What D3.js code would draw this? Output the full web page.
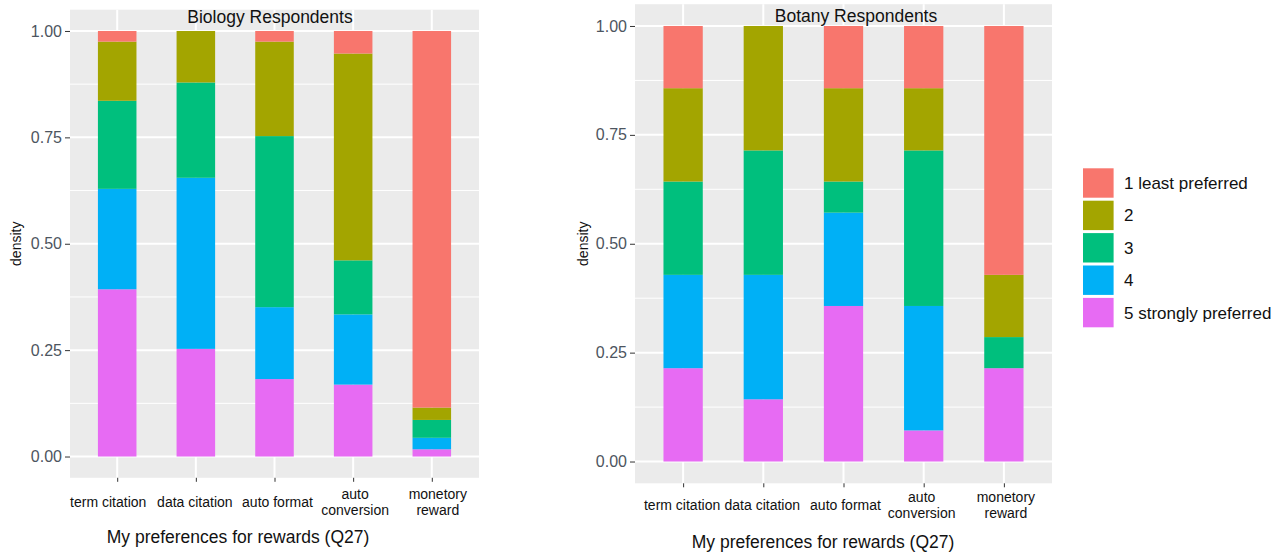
<!DOCTYPE html>
<html>
<head>
<meta charset="utf-8">
<script src="https://cdn.jsdelivr.net/npm/d3@7"></script>
<style>
  html, body { margin: 0; padding: 0; background: #ffffff; }
  svg { display: block; font-family: "Liberation Sans", Arial, sans-serif; }
</style>
</head>
<body>
<svg id="chart" width="1280" height="553"></svg>
<script>
// ---------------- DATA ----------------
const categories = ["term citation", "data citation", "auto format", "auto conversion", "monetory reward"];
const categoryLines = [["term citation"], ["data citation"], ["auto format"], ["auto", "conversion"], ["monetory", "reward"]];
const levels = ["1 least preferred", "2", "3", "4", "5 strongly preferred"];
const levelColors = ["#F8766D", "#A3A500", "#00BF7D", "#00B0F6", "#E76BF3"];
const yTicks = [0, 0.25, 0.5, 0.75, 1.0];
const yMinorTicks = [0.125, 0.375, 0.625, 0.875];

// Biology respondents (share of each rating per category)
const bioLevel1 = [0.025, 0.000, 0.025, 0.053, 0.885];
const bioLevel2 = [0.139, 0.121, 0.222, 0.486, 0.029];
const bioLevel3 = [0.207, 0.224, 0.402, 0.127, 0.042];
const bioLevel4 = [0.236, 0.402, 0.169, 0.165, 0.027];
const bioLevel5 = [0.393, 0.253, 0.182, 0.169, 0.017];

// Botany respondents (n = 14)
const botLevel1 = [2/14, 0/14, 2/14, 2/14, 8/14];
const botLevel2 = [3/14, 4/14, 3/14, 2/14, 2/14];
const botLevel3 = [3/14, 4/14, 1/14, 5/14, 1/14];
const botLevel4 = [3/14, 4/14, 3/14, 4/14, 0/14];
const botLevel5 = [3/14, 2/14, 5/14, 1/14, 3/14];

const panelTitles = ["Biology Respondents", "Botany Respondents"];
const xTitle = "My preferences for rewards (Q27)";
const yTitle = "density";

// ---------------- DRAW ----------------
const svg = d3.select("#chart");

function buildRows(series) {
  return categories.map((c, i) => {
    const row = { category: c };
    levels.forEach((l, j) => { row[l] = series[j][i]; });
    return row;
  });
}

function drawPanel(cfg) {
  const g = svg.append("g");
  const { left, right, top, bottom } = cfg;
  const rows = buildRows(cfg.series);

  const y = d3.scaleLinear().domain([-0.05, 1.05]).range([bottom, top]);
  const x = d3.scaleLinear().domain([0.4, categories.length + 0.6]).range([left, right]);
  const xc = d => x(categories.indexOf(d) + 1);
  const barW = (x(1.5) - x(1)) * 2 * 0.5 * 0.98;

  g.append("rect").attr("x", left).attr("y", top)
    .attr("width", right - left).attr("height", bottom - top).attr("fill", "#EBEBEB");

  g.selectAll(".minor").data(yMinorTicks).join("line")
    .attr("x1", left).attr("x2", right).attr("y1", d => y(d)).attr("y2", d => y(d))
    .attr("stroke", "#fff").attr("stroke-width", 1);
  g.selectAll(".major").data(yTicks).join("line")
    .attr("x1", left).attr("x2", right).attr("y1", d => y(d)).attr("y2", d => y(d))
    .attr("stroke", "#fff").attr("stroke-width", 2);
  g.selectAll(".vmajor").data(categories).join("line")
    .attr("x1", d => xc(d)).attr("x2", d => xc(d)).attr("y1", top).attr("y2", bottom)
    .attr("stroke", "#fff").attr("stroke-width", 2);

  const stackKeys = levels.slice().reverse();
  const stacked = d3.stack().keys(stackKeys)(rows);
  stacked.forEach(layer => {
    const col = levelColors[levels.indexOf(layer.key)];
    g.append("g").selectAll("rect").data(layer).join("rect")
      .attr("x", d => xc(d.data.category) - barW / 2)
      .attr("width", barW)
      .attr("y", d => y(d[1]))
      .attr("height", d => Math.max(0, y(d[0]) - y(d[1])))
      .attr("fill", col);
  });

  const yAxis = d3.axisLeft(y).tickValues(yTicks).tickFormat(d3.format(".2f")).tickSize(5).tickPadding(3);
  const ya = g.append("g").attr("transform", `translate(${left},0)`).call(yAxis);
  ya.select(".domain").remove();
  ya.selectAll("line").attr("stroke", "#333");
  ya.selectAll("text").attr("font-size", 16).attr("fill", "#4D5560")
    .attr("font-family", "Liberation Sans, Arial, sans-serif");

  const xAxis = d3.axisBottom(x).tickValues(d3.range(1, categories.length + 1)).tickSize(4).tickFormat("");
  const xa = g.append("g").attr("transform", `translate(0,${bottom})`).call(xAxis);
  xa.select(".domain").remove();
  xa.selectAll("line").attr("stroke", "#333");

  categories.forEach((c, i) => {
    const lines = categoryLines[i];
    const t = g.append("text").attr("text-anchor", "middle")
      .attr("font-size", 14).attr("fill", "#111");
    lines.forEach((ln, k) => {
      const yy = lines.length === 1 ? cfg.labelY : cfg.labelY - 8 + k * 16;
      t.append("tspan").attr("x", xc(c) + cfg.labelDx[i]).attr("y", yy).text(ln);
    });
  });

  g.append("text").attr("x", cfg.titleX).attr("y", cfg.titleY).attr("text-anchor", "middle")
    .attr("font-size", 17.5).attr("fill", "#111").text(cfg.title);

  g.append("text").attr("x", cfg.xTitleX).attr("y", cfg.xTitleY).attr("text-anchor", "middle")
    .attr("font-size", 17.5).attr("fill", "#111").text(xTitle);
  g.append("text").attr("transform", `translate(${cfg.yTitleX},${(y(0) + y(1)) / 2}) rotate(-90)`)
    .attr("text-anchor", "middle").attr("font-size", 14).attr("fill", "#111").text(yTitle);
}

drawPanel({
  left: 70, right: 479, top: 9.7, bottom: 477.8,
  series: [bioLevel1, bioLevel2, bioLevel3, bioLevel4, bioLevel5],
  title: panelTitles[0], titleX: 270, titleY: 22.5,
  labelY: 507, labelDx: [-9, -1, 3, 2, 6],
  xTitleX: 238, xTitleY: 543, yTitleX: 21
});

drawPanel({
  left: 635, right: 1052, top: 4.2, bottom: 483.3,
  series: [botLevel1, botLevel2, botLevel3, botLevel4, botLevel5],
  title: panelTitles[1], titleX: 856, titleY: 21.5,
  labelY: 510, labelDx: [-1, -1, 2, -2, 2],
  xTitleX: 823, xTitleY: 548, yTitleX: 588
});

const legend = svg.append("g");
const keyX = 1083, keyY0 = 168.3, keyW = 30.6, keyH = 29.4, pitch = 32.4;
levels.forEach((l, i) => {
  legend.append("rect").attr("x", keyX).attr("y", keyY0 + i * pitch)
    .attr("width", keyW).attr("height", keyH).attr("fill", levelColors[i]);
  legend.append("text").attr("x", 1124).attr("y", keyY0 + i * pitch + keyH / 2 + 6)
    .attr("font-size", 17).attr("fill", "#111").text(l);
});
</script>
</body>
</html>
